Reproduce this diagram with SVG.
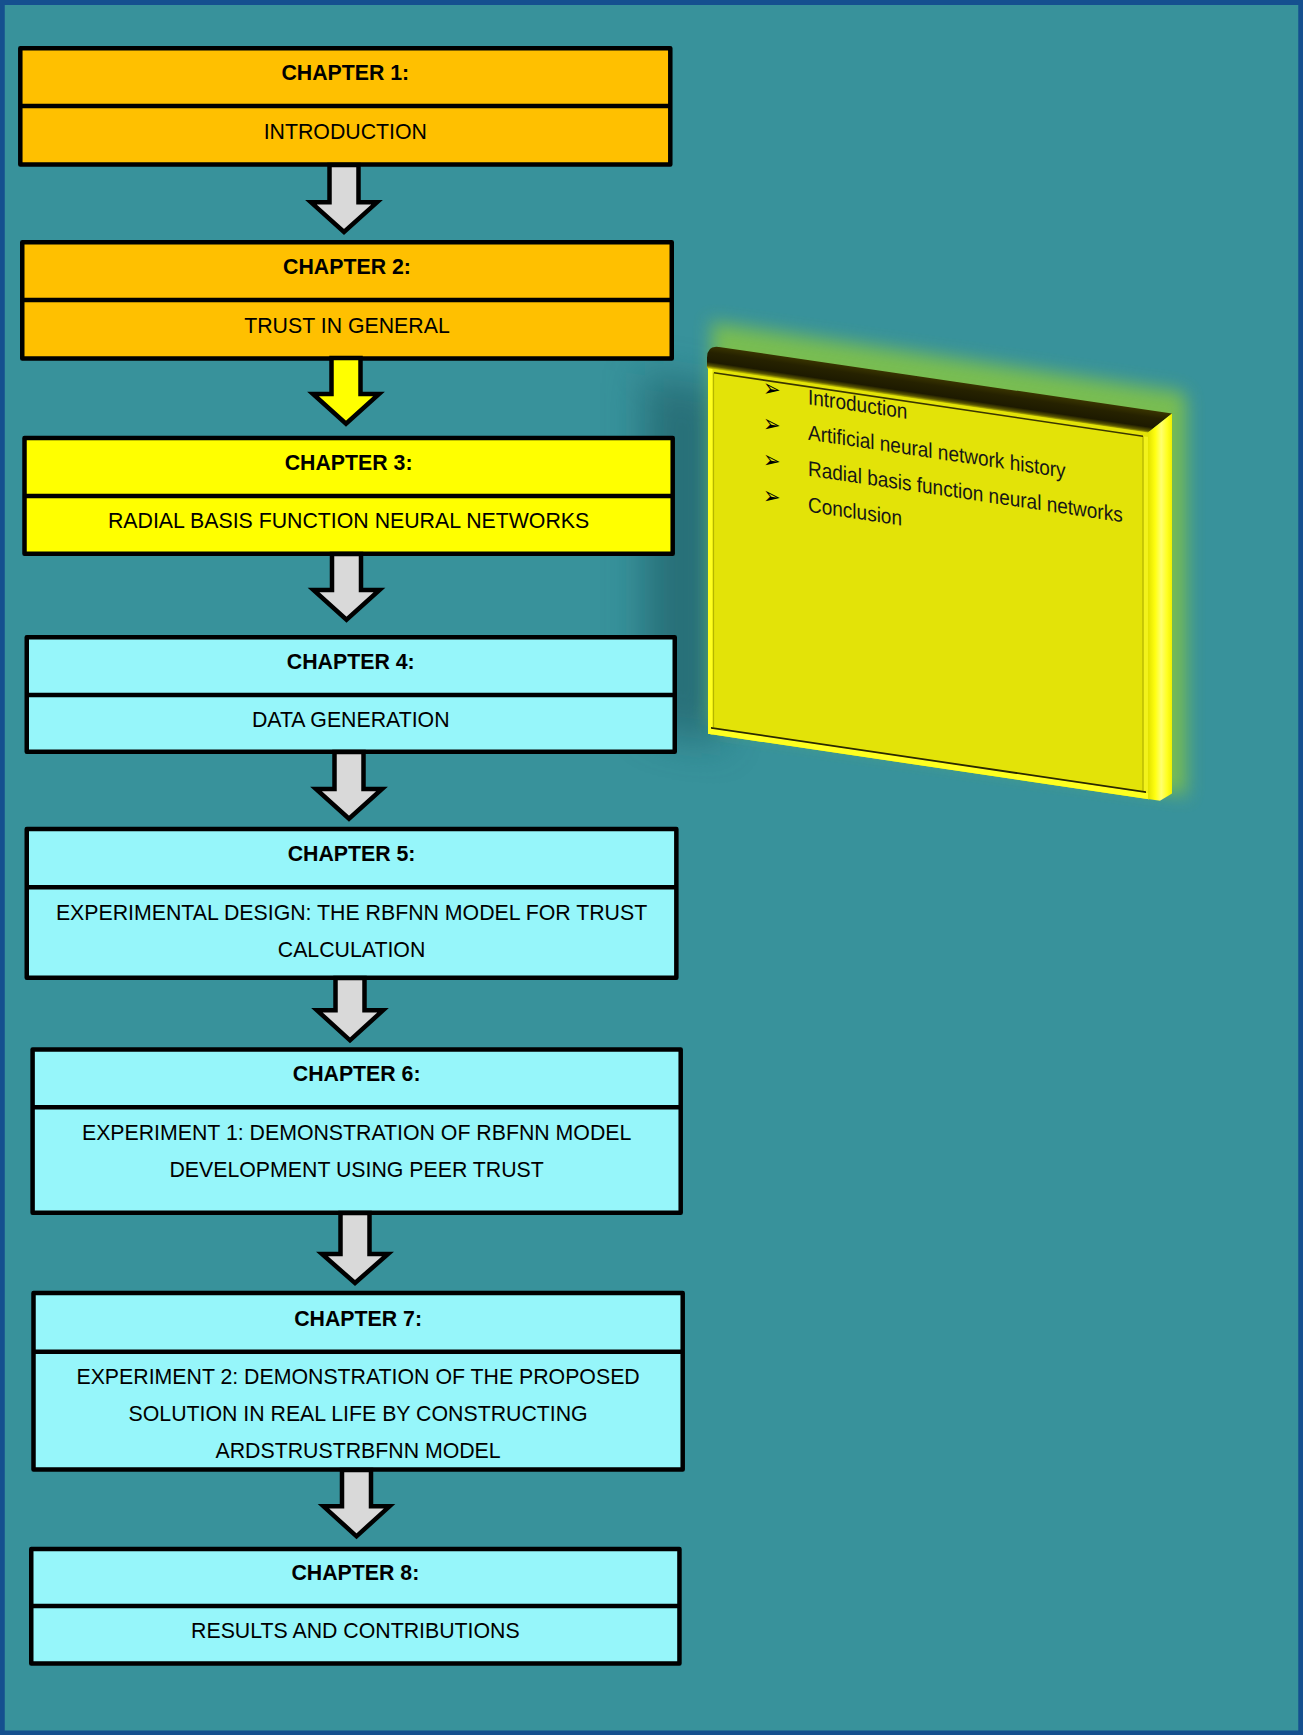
<svg xmlns="http://www.w3.org/2000/svg" width="1303" height="1735" viewBox="0 0 1303 1735">
  <defs>
    <style>
      .box rect { stroke: #000; stroke-width: 4.5; stroke-linejoin: round; }
      .box line { stroke: #000; stroke-width: 4.5; }
      .orange rect { fill: #ffc000; }
      .yellow rect { fill: #ffff00; }
      .cyan rect { fill: #96f6fa; }
      .hd { font-family: "Liberation Sans", Arial, sans-serif; font-size: 21.3px; font-weight: bold; text-anchor: middle; fill: #000; }
      .tx { font-family: "Liberation Sans", Arial, sans-serif; font-size: 21.3px; text-anchor: middle; fill: #000; }
      .arrow { stroke: #000; stroke-width: 4.5; stroke-linejoin: miter; fill: #d9d9d9; }
      .arrow.hot { fill: #ffff00; }
      .item { font-family: "Liberation Sans", Arial, sans-serif; font-size: 19px; fill: #161616; }
      .bul { font-family: "DejaVu Sans", sans-serif; font-size: 21px; fill: #000; }
    </style>
    <filter id="softShadow" x="-60%" y="-50%" width="220%" height="200%">
      <feGaussianBlur stdDeviation="20"/>
    </filter>
    <filter id="softGlow" x="-20%" y="-20%" width="140%" height="140%">
      <feGaussianBlur stdDeviation="9"/>
    </filter>
    <linearGradient id="barGrad" x1="0" y1="0" x2="0" y2="1">
      <stop offset="0" stop-color="#3a3500"/>
      <stop offset="0.3" stop-color="#262200"/>
      <stop offset="0.72" stop-color="#1d1a00"/>
      <stop offset="0.88" stop-color="#5a5600"/>
      <stop offset="1" stop-color="#d2d200"/>
    </linearGradient>
    <linearGradient id="sideGrad" x1="0" y1="0" x2="1" y2="0">
      <stop offset="0" stop-color="#e2e200"/>
      <stop offset="0.3" stop-color="#ffff10"/>
      <stop offset="0.55" stop-color="#ffff70"/>
      <stop offset="0.8" stop-color="#ffff20"/>
      <stop offset="1" stop-color="#f0f000"/>
    </linearGradient>
  </defs>

  <!-- background and frame -->
  <rect x="0" y="0" width="1303" height="1735" fill="#38929b"/>
  <rect x="2.25" y="2.5" width="1298.5" height="1730.5" fill="none" stroke="#15508f" stroke-width="5"/>

  <!-- tilted outline board for chapter 3 -->
  <g id="chapter3-outline" transform="translate(709 0) skewY(8.42) translate(-709 0)">
    <rect x="645" y="385" width="75" height="355" fill="#1e5860" opacity="0.6" filter="url(#softShadow)"/>
    <rect x="712" y="322" width="474" height="402" fill="#84c545" opacity="0.85" filter="url(#softGlow)"/>
    <!-- front face -->
    <rect x="708" y="366" width="441" height="368" fill="#e3e308"/>
    <rect x="708" y="366" width="4.5" height="368" fill="#ffff20"/>
    <line x1="713.5" y1="372" x2="713.5" y2="727" stroke="#b5b500" stroke-width="1.2"/>
    <rect x="1143.5" y="372" width="5" height="356" fill="#f2f21a"/>
    <line x1="1143" y1="372" x2="1143" y2="727" stroke="#a8a800" stroke-width="1"/>
    <line x1="714" y1="372" x2="1143" y2="372" stroke="#3a3600" stroke-width="1.6"/>
    <rect x="708" y="728" width="441" height="6" fill="#ffff20"/>
    <line x1="711" y1="727.5" x2="1146" y2="727.5" stroke="#2a2800" stroke-width="1.8"/>
    <!-- top rail and right side -->
    <path d="M707,358 Q707,345.5 719,345.5 L1172,345 L1148,367.5 L707,368.5 Z" fill="url(#barGrad)"/>
    <path d="M1148,367.5 L1172,345 L1172,725 L1160,734 L1148,734 Z" fill="url(#sideGrad)"/>
    <!-- outline items -->
    <text class="bul" transform="translate(763 387.5) scale(1 1.12)">➢</text>
    <text class="item" transform="translate(808 389.5) scale(1 1.12)">Introduction</text>
    <text class="bul" transform="translate(763 423) scale(1 1.12)">➢</text>
    <text class="item" transform="translate(808 425) scale(1 1.12)">Artificial neural network history</text>
    <text class="bul" transform="translate(763 459) scale(1 1.12)">➢</text>
    <text class="item" transform="translate(808 461) scale(1 1.12)">Radial basis function neural networks</text>
    <text class="bul" transform="translate(763 495) scale(1 1.12)">➢</text>
    <text class="item" transform="translate(808 497) scale(1 1.12)">Conclusion</text>
  </g>

  <!-- chapter boxes -->
  <g id="chapter1" class="box orange">
    <rect x="20.3" y="48.3" width="650" height="116.2"/>
    <line x1="20.3" y1="106" x2="670.3" y2="106"/>
    <text class="hd" x="345.3" y="80">CHAPTER 1:</text>
    <text class="tx" x="345.3" y="139.3">INTRODUCTION</text>
  </g>
  <g id="chapter2" class="box orange">
    <rect x="22.25" y="242.25" width="649.5" height="116.2"/>
    <line x1="22.25" y1="300" x2="671.75" y2="300"/>
    <text class="hd" x="347" y="274">CHAPTER 2:</text>
    <text class="tx" x="347" y="332.7">TRUST IN GENERAL</text>
  </g>
  <g id="chapter3" class="box yellow">
    <rect x="24.5" y="438" width="648.2" height="115.8"/>
    <line x1="24.5" y1="496" x2="672.7" y2="496"/>
    <text class="hd" x="348.6" y="470">CHAPTER 3:</text>
    <text class="tx" x="348.6" y="527.7">RADIAL BASIS FUNCTION NEURAL NETWORKS</text>
  </g>
  <g id="chapter4" class="box cyan">
    <rect x="26.75" y="637.25" width="648" height="114.5"/>
    <line x1="26.75" y1="695" x2="674.75" y2="695"/>
    <text class="hd" x="350.75" y="668.7">CHAPTER 4:</text>
    <text class="tx" x="350.75" y="727.3">DATA GENERATION</text>
  </g>
  <g id="chapter5" class="box cyan">
    <rect x="26.75" y="829" width="649.6" height="148.8"/>
    <line x1="26.75" y1="887.3" x2="676.35" y2="887.3"/>
    <text class="hd" x="351.55" y="861">CHAPTER 5:</text>
    <text class="tx" x="351.55" y="920">EXPERIMENTAL DESIGN: THE RBFNN MODEL FOR TRUST</text>
    <text class="tx" x="351.55" y="956.7">CALCULATION</text>
  </g>
  <g id="chapter6" class="box cyan">
    <rect x="32.6" y="1049.5" width="648.1" height="163.2"/>
    <line x1="32.6" y1="1107.3" x2="680.7" y2="1107.3"/>
    <text class="hd" x="356.65" y="1080.7">CHAPTER 6:</text>
    <text class="tx" x="356.65" y="1140">EXPERIMENT 1: DEMONSTRATION OF RBFNN MODEL</text>
    <text class="tx" x="356.65" y="1176.7">DEVELOPMENT USING PEER TRUST</text>
  </g>
  <g id="chapter7" class="box cyan">
    <rect x="33.5" y="1293" width="649.2" height="176.5"/>
    <line x1="33.5" y1="1351.7" x2="682.7" y2="1351.7"/>
    <text class="hd" x="358.1" y="1326">CHAPTER 7:</text>
    <text class="tx" x="358.1" y="1384.3">EXPERIMENT 2: DEMONSTRATION OF THE PROPOSED</text>
    <text class="tx" x="358.1" y="1420.7">SOLUTION IN REAL LIFE BY CONSTRUCTING</text>
    <text class="tx" x="358.1" y="1457.7">ARDSTRUSTRBFNN MODEL</text>
  </g>
  <g id="chapter8" class="box cyan">
    <rect x="31.25" y="1549" width="648.2" height="114.5"/>
    <line x1="31.25" y1="1606" x2="679.45" y2="1606"/>
    <text class="hd" x="355.35" y="1580">CHAPTER 8:</text>
    <text class="tx" x="355.35" y="1638">RESULTS AND CONTRIBUTIONS</text>
  </g>

  <!-- block arrows between chapters -->
  <g id="connectors">
    <path class="arrow" d="M329.5,165 H358.5 V202.3 H377 L344,232 L311,202.3 H329.5 Z"/>
    <path class="arrow hot" d="M331.5,358 H360.5 V394 H379 L346,423.7 L313,394 H331.5 Z"/>
    <path class="arrow" d="M332,554 H361 V590 H379.5 L346.5,619.7 L313.5,590 H332 Z"/>
    <path class="arrow" d="M334.5,752 H363.5 V789 H382 L349,818.7 L316,789 H334.5 Z"/>
    <path class="arrow" d="M335.5,978 H364.5 V1010.3 H383 L350,1040.3 L317,1010.3 H335.5 Z"/>
    <path class="arrow" d="M340.5,1213 H369.5 V1254 H388 L355,1283 L322,1254 H340.5 Z"/>
    <path class="arrow" d="M342,1470 H371 V1506.3 H389.5 L356.5,1536.3 L323.5,1506.3 H342 Z"/>
  </g>
</svg>
